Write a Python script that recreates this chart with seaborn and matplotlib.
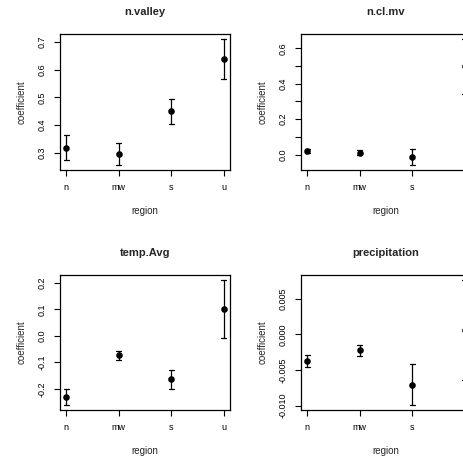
import numpy as np
import pandas as pd
import matplotlib
matplotlib.use("Agg")
import matplotlib.pyplot as plt
import seaborn as sns

# ---- data ----
regions = ["n", "mw", "s", "u"]
titles = ["n.valley", "n.cl.mv", "temp.Avg", "precipitation"]

nvalley_est = [0.318, 0.295, 0.449, 0.640]
nvalley_lo = [0.272, 0.255, 0.404, 0.566]
nvalley_hi = [0.364, 0.333, 0.495, 0.711]

nclmv_est = [0.019, 0.010, -0.012, 0.500]
nclmv_lo = [0.007, -0.003, -0.059, 0.345]
nclmv_hi = [0.032, 0.025, 0.032, 0.653]

temp_est = [-0.231, -0.072, -0.161, 0.101]
temp_lo = [-0.260, -0.089, -0.199, -0.007]
temp_hi = [-0.201, -0.057, -0.129, 0.210]

precip_est = [-0.0037, -0.0022, -0.0071, 0.0006]
precip_lo = [-0.0046, -0.0031, -0.0099, -0.0064]
precip_hi = [-0.0029, -0.0015, -0.0041, 0.0076]

yticks_nvalley = [0.3, 0.4, 0.5, 0.6, 0.7]
ylabels_nvalley = ["0.3", "0.4", "0.5", "0.6", "0.7"]
yticks_nclmv = [0.0, 0.1, 0.2, 0.3, 0.4, 0.5, 0.6]
ylabels_nclmv = ["0.0", "", "0.2", "", "0.4", "", "0.6"]
yticks_temp = [-0.2, -0.1, 0.0, 0.1, 0.2]
ylabels_temp = ["-0.2", "-0.1", "0.0", "0.1", "0.2"]
yticks_precip = [-0.010, -0.005, 0.000, 0.005]
ylabels_precip = ["-0.010", "-0.005", "0.000", "0.005"]

panels = [
    (nvalley_est, nvalley_lo, nvalley_hi, yticks_nvalley, ylabels_nvalley),
    (nclmv_est, nclmv_lo, nclmv_hi, yticks_nclmv, ylabels_nclmv),
    (temp_est, temp_lo, temp_hi, yticks_temp, ylabels_temp),
    (precip_est, precip_lo, precip_hi, yticks_precip, ylabels_precip),
]

sns.set_style("ticks")
plt.rcParams["font.family"] = ["Liberation Sans", "DejaVu Sans"]
plt.rcParams["axes.unicode_minus"] = False

W, H = 464, 457
fig = plt.figure(figsize=(W / 100, H / 100), dpi=100)

# axes boxes in pixels: (left, top, width, height)
boxes = [(60, 34, 170, 136), (301, 34, 170, 136),
         (60, 275, 170, 135), (301, 275, 170, 135)]

for (est, lo, hi, yt, yl), title, (l, t, w, h) in zip(panels, titles, boxes):
    ax = fig.add_axes([l / W, (H - t - h) / H, w / W, h / H])
    df = pd.DataFrame({
        "region": regions * 3,
        "value": list(lo) + list(est) + list(hi),
    })
    sns.pointplot(data=df, x="region", y="value", order=regions,
                  estimator="median",
                  errorbar=lambda v: (v.min(), v.max()),
                  color="black", linestyle="none", marker="o",
                  markersize=2.7, capsize=0.1,
                  err_kws={"linewidth": 0.9}, ax=ax)
    ax.set_xlim(-0.12, 3.12)
    ymin, ymax = min(lo), max(hi)
    pad = 0.04 * (ymax - ymin)
    ax.set_ylim(ymin - pad, ymax + pad)
    ax.set_yticks(yt)
    ax.set_yticklabels(yl)
    for s in ax.spines.values():
        s.set_visible(True)
        s.set_color("black")
        s.set_linewidth(0.9)
    ax.tick_params(axis="both", direction="out", length=4.5, width=0.8,
                   color="black", labelsize=6.5, labelcolor="black", pad=5)
    for lab in ax.get_yticklabels():
        lab.set_rotation(90)
        lab.set_va("center")
    ax.set_title(title, fontsize=8, fontweight="bold", pad=13.5)
    ax.set_xlabel("region", fontsize=7)
    ax.set_ylabel("coefficient", fontsize=7)
    ax.xaxis.set_label_coords(0.5, -41 / h)
    ax.xaxis.label.set_va("center")
    ax.yaxis.set_label_coords(-38 / w, 0.5)
    ax.yaxis.label.set_va("center")

fig.savefig("out.png", dpi=100)
